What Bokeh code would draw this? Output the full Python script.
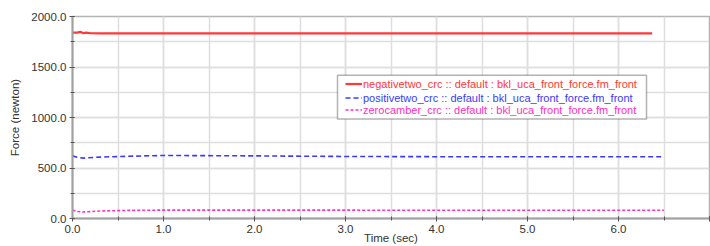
from bokeh.plotting import figure
from bokeh.models import (Range1d, SingleIntervalTicker, PrintfTickFormatter,
                          Legend, LegendItem, BoxAnnotation)
from bokeh.embed import file_html
from bokeh.resources import INLINE

# ---- data ----
time_neg = [0.0, 0.05, 0.09, 0.12, 0.15, 0.2, 0.3, 1.0, 3.0, 5.0, 6.37]
force_neg = [1840, 1841, 1848, 1834, 1840, 1834, 1833, 1833, 1833, 1833, 1833]

time_pos = [0.0, 0.05, 0.12, 0.3, 0.6, 1.0, 2.0, 3.0, 4.0, 5.0, 6.5]
force_pos = [620, 606, 598, 608, 616, 624, 620, 614, 612, 612, 612]

time_zero = [0.0, 0.05, 0.12, 0.3, 0.6, 1.0, 2.0, 4.0, 6.5]
force_zero = [84, 70, 64, 74, 80, 83, 83, 82, 82]

series_labels = [
    "negativetwo_crc :: default : bkl_uca_front_force.fm_front",
    "positivetwo_crc :: default : bkl_uca_front_force.fm_front",
    "zerocamber_crc :: default : bkl_uca_front_force.fm_front",
]
series_colors = ["#ff3838", "#3a3aff", "#ff30c0"]
series_dash = ["solid", "5 3", "3 2"]
series_width = [2.2, 1.6, 1.6]

x_title = "Time (sec)"
y_title = "Force (newton)"
x_last_tick = 7.0

FONT = "Liberation Sans"
W, H = 710, 246
BL, BR, BT, BB = 72, 1, 16, 27

p = figure(width=W, height=H, output_backend="svg", toolbar_location=None,
           x_range=Range1d(0, 7), y_range=Range1d(0, 2000),
           min_border_left=BL, min_border_right=BR, min_border_top=BT,
           min_border_bottom=BB)
p.background_fill_color = "white"
p.border_fill_color = "white"
p.outline_line_color = "#b4b4b4"
p.outline_line_width = 1.5

# axes
p.xaxis.ticker = SingleIntervalTicker(interval=1, num_minor_ticks=2)
p.yaxis.ticker = SingleIntervalTicker(interval=500, num_minor_ticks=2)
p.xaxis.formatter = PrintfTickFormatter(format="%.1f")
p.yaxis.formatter = PrintfTickFormatter(format="%.1f")
for ax in (p.xaxis, p.yaxis):
    ax.axis_line_color = "#a0a0a0"
    ax.axis_line_width = 2
    ax.major_tick_line_color = "#555555"
    ax.minor_tick_line_color = "#555555"
    ax.major_tick_in = 2
    ax.major_tick_out = 3
    ax.minor_tick_in = 2
    ax.minor_tick_out = 2
    ax.major_label_text_font = FONT
    ax.major_label_text_font_size = "11.5px"
    ax.major_label_text_color = "#333333"
    ax.major_label_standoff = 3
    ax.axis_label_text_font = FONT
    ax.axis_label_text_font_size = "11.5px"
    ax.axis_label_text_font_style = "normal"
    ax.axis_label_text_color = "#333333"

# the last x tick label sits beyond the window edge in the reference
p.xaxis.major_label_overrides = {x_last_tick: ""}

p.yaxis.axis_label = y_title
p.yaxis.axis_label_standoff = 7
p.xaxis.axis_label = x_title
p.xaxis.axis_label_standoff = -4

# grid
for g in (p.xgrid, p.ygrid):
    g.grid_line_color = "#dedede"
    g.grid_line_width = 1.5
    g.minor_grid_line_color = "#dedede"
    g.minor_grid_line_width = 1.5

# lines
xs = [time_neg, time_pos, time_zero]
ys = [force_neg, force_pos, force_zero]
renderers = []
for x, y, c, d, w in zip(xs, ys, series_colors, series_dash, series_width):
    r = p.line(x, y, line_color=c, line_dash=d, line_width=w)
    renderers.append(r)

# ---- legend: a box plus one legend per item (own text colour) ----
frame_w = W - BL - BR
frame_h = H - BT - BB
def px_to_x(px):
    return p.x_range.start + (px - BL) / frame_w * (p.x_range.end - p.x_range.start)
def py_to_y(py):
    return p.y_range.start + (H - BB - py) / frame_h * (p.y_range.end - p.y_range.start)

box_left, box_right, box_top, box_bottom = 337, 646, 75, 119   # page pixels
p.add_layout(BoxAnnotation(left=px_to_x(box_left), right=px_to_x(box_right),
                           top=py_to_y(box_top), bottom=py_to_y(box_bottom),
                           fill_color="white", fill_alpha=1.0,
                           line_color="black", line_width=1.5))

ROW = 13
LX = 345 - BL            # glyph start, frame-relative
first_row_top = 78.5
common = dict(glyph_width=17, glyph_height=ROW, label_height=ROW, label_standoff=1,
              spacing=0, padding=0, margin=0, label_text_font=FONT,
              label_text_font_size="11px", click_policy="none",
              border_line_color=None, background_fill_alpha=0.0)
for i, (l, r, c) in enumerate(zip(series_labels, renderers, series_colors)):
    bottom_py = first_row_top + ROW * (i + 1)
    leg = Legend(items=[LegendItem(label=l, renderers=[r])],
                 location=(LX, int(round(H - BB - bottom_py))),
                 label_text_color=c, **common)
    p.add_layout(leg)

open("out.html", "w").write(file_html(p, INLINE))
